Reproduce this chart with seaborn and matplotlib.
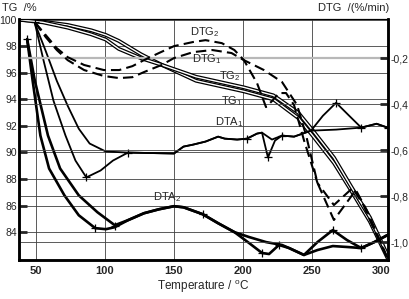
import numpy as np
import pandas as pd
import matplotlib
matplotlib.use("Agg")
import matplotlib.pyplot as plt
import matplotlib.patheffects as pe
from matplotlib.ticker import FuncFormatter
import seaborn as sns

sns.set_style("white")
plt.rcParams['font.family'] = ['Liberation Sans', 'DejaVu Sans']
plt.rcParams['mathtext.default'] = 'regular'

# TG curves, %  (temperature in degC)
tg1_t = [38, 55, 73, 90, 100.6, 110, 126, 141, 166, 200.7, 222, 240, 251, 266, 278, 292, 305]
tg1_v = [100.0, 99.85, 99.6, 99.2, 98.85, 98.4, 97.4, 96.6, 95.4, 94.6, 94.0, 92.6, 91.2, 89.2, 87.2, 84.8, 82.0]
tg2_t = [38, 55, 73, 90, 100.6, 110, 126, 141, 166, 200.7, 222, 240, 251, 266, 278, 292, 305]
tg2_v = [100.0, 99.8, 99.4, 98.9, 98.5, 97.8, 97.1, 96.6, 95.7, 94.9, 94.3, 93.0, 91.6, 89.6, 87.5, 85.1, 82.2]

# DTG curves, %/min (right axis)
dtg1_t = [49.2, 57.1, 65.1, 73.0, 84.9, 99.2, 110.3, 119.9, 128.2, 141.0, 150, 163.9, 177.8,
          191.7, 200.7, 215.2, 228.3, 239.2, 245.7, 254.0, 265.9, 281.8, 289.7, 297.6, 304.8]
dtg1_v = [-0.044, -0.109, -0.165, -0.209, -0.252, -0.278, -0.287, -0.283, -0.261, -0.230, -0.200,
          -0.174, -0.165, -0.178, -0.209, -0.252, -0.304, -0.404, -0.535, -0.743, -0.904, -0.774,
          -0.861, -0.970, -1.070]
dtg2_t = [49.2, 57.1, 65.1, 73.0, 84.9, 99.2, 110.3, 119.9, 128.2, 139.1, 150, 163.9, 172.9, 184.7,
          193.8, 200.7, 210.2, 216.7, 221.0, 226.1, 231.2, 237.0, 244.2, 254.0, 265.9, 279.4,
          287.3, 295.2, 304.8]
dtg2_v = [-0.044, -0.100, -0.157, -0.196, -0.230, -0.252, -0.252, -0.235, -0.209, -0.178, -0.148,
          -0.130, -0.122, -0.135, -0.165, -0.209, -0.309, -0.413, -0.387, -0.352, -0.352, -0.404,
          -0.557, -0.743, -0.839, -0.765, -0.839, -0.948, -1.070]

# DTA curves (no units, drawn on the left scale)
dta1_mid_t = [150, 156.9, 163.9, 172.9, 182.0, 186.8, 195.8, 202.9, 210.2, 213.8]
dta1_mid_v = [89.92, 90.44, 90.59, 90.82, 91.19, 91.04, 90.97, 91.04, 91.42, 91.49]
dta1a_t = [49.2, 57.1, 65.1, 73.0, 81.0, 88.9, 100.6, 116.7] + dta1_mid_t + \
          [218.1, 223.2, 228.3, 237.0, 249.3, 257.9, 267.5, 277.0, 285.7, 296.8, 304.8]
dta1a_v = [99.73, 97.63, 95.39, 93.51, 91.79, 90.67, 90.07, 89.99] + dta1_mid_v + \
          [89.62, 90.89, 91.27, 91.19, 91.64, 92.76, 93.74, 92.76, 91.87, 92.16, 91.87]
dta1b_t = [49.2, 55.6, 62.7, 71.4, 78.6, 86.5, 96.8, 105.8, 116.7] + dta1_mid_t + \
          [221.0, 228.3, 237.0, 249.3, 267.5, 285.7, 296.8, 304.8]
dta1b_v = [99.73, 96.88, 93.89, 91.27, 89.39, 88.12, 88.64, 89.39, 89.99] + dta1_mid_v + \
          [90.97, 91.27, 91.19, 91.64, 91.72, 91.87, 92.16, 91.87]

dta2_mid_t = [116.7, 128.2, 139.1, 150, 156.9, 170.8, 182.0, 193.8]
dta2_mid_v = [84.90, 85.42, 85.72, 85.95, 85.87, 85.35, 84.67, 84.0]
dta2a_t = [43.6, 47.6, 53.2, 59.5, 70.6, 81.0, 92.9, 100.6, 107.1] + dta2_mid_t + \
          [204.4, 213.8, 218.9, 226.1, 233.4, 244.2, 254.0, 265.1, 275.4, 285.7, 295.2, 304.8]
dta2a_v = [98.53, 95.39, 91.27, 88.79, 86.77, 85.27, 84.30, 84.22, 84.37] + dta2_mid_v + \
          [83.18, 82.43, 82.35, 83.03, 82.80, 82.28, 83.25, 84.15, 83.40, 82.80, 83.25, 83.78]
dta2b_t = [43.6, 49.2, 58.7, 67.5, 81.0, 94.5, 107.1] + dta2_mid_t + \
          [204.4, 216.7, 228.3, 233.4, 244.2, 254.0, 265.1, 275.4, 285.7, 295.2, 304.8]
dta2b_v = [98.53, 95.39, 91.27, 88.79, 86.77, 85.50, 84.52] + dta2_mid_v + \
          [83.63, 83.25, 83.03, 82.80, 82.28, 82.65, 82.95, 82.88, 82.80, 83.25, 83.78]

# "+" marks on the curves
plus_t = [49.2, 43.6, 116.7, 86.5, 92.9, 107.1, 170.8, 202.9, 218.1, 228.3, 267.5, 285.7, 304.8,
          213.8, 226.1, 265.1, 285.7, 304.8]
plus_v = [99.8, 98.53, 89.99, 88.12, 84.30, 84.45, 85.35, 91.04, 89.62, 91.27, 93.74, 91.87, 91.87,
          82.43, 83.03, 84.15, 82.80, 83.78]

x_ticks = [50, 100, 150, 200, 250, 300]
tg_ticks = [84, 86, 88, 90, 92, 94, 96, 98, 100]
dtg_ticks = [-1.0, -0.8, -0.6, -0.4, -0.2]

fig = plt.figure(figsize=(4.10, 2.99), dpi=100)
ax = fig.add_axes([19/410, 1 - 260/299, 369/410, 241/299])
ax2 = ax.twinx()

ax.set_xlim(37.7, 305.1)
ax.set_ylim(81.9, 100.05)
ax2.set_ylim(-1.078, -0.030)

# grid
for t in x_ticks[:-1]:
    ax.axvline(t, color='0.25', lw=0.6, zorder=0)
for v in tg_ticks:
    ax.axhline(v, color='0.25', lw=0.6, zorder=0)
for v in dtg_ticks:
    if v == -0.2:
        ax2.axhline(v, color='0.72', lw=1.6, zorder=0)
    else:
        ax2.axhline(v, color='0.25', lw=0.6, zorder=0)

hollow = [pe.Stroke(linewidth=2.8, foreground='k'), pe.Normal()]
sns.lineplot(x=tg1_t, y=tg1_v, ax=ax, color='white', lw=1.0, sort=False, estimator=None,
             path_effects=hollow)
sns.lineplot(x=tg2_t, y=tg2_v, ax=ax, color='white', lw=1.0, sort=False, estimator=None,
             path_effects=hollow)

sns.lineplot(x=dta1a_t, y=dta1a_v, ax=ax, color='k', lw=1.3, sort=False, estimator=None)
sns.lineplot(x=dta1b_t, y=dta1b_v, ax=ax, color='k', lw=1.3, sort=False, estimator=None)
sns.lineplot(x=dta2a_t, y=dta2a_v, ax=ax, color='k', lw=1.9, sort=False, estimator=None)
sns.lineplot(x=dta2b_t, y=dta2b_v, ax=ax, color='k', lw=1.9, sort=False, estimator=None)
sns.scatterplot(x=plus_t, y=plus_v, ax=ax, marker='+', s=40, color='k', linewidth=0.9, zorder=5)

sns.lineplot(x=dtg1_t, y=dtg1_v, ax=ax2, color='k', lw=1.5, sort=False, estimator=None,
             linestyle=(0, (5, 2.5)))
sns.lineplot(x=dtg2_t, y=dtg2_v, ax=ax2, color='k', lw=1.5, sort=False, estimator=None,
             linestyle=(0, (5, 2.5)))

ax.set_xticks(x_ticks)
ax.set_xticklabels([str(t) for t in x_ticks], fontweight='bold')
ax.tick_params(axis='x', length=0, labelsize=8, pad=4)
ax.set_yticks(tg_ticks)
ax.tick_params(axis='y', direction='in', length=6, width=2, labelsize=7.5, pad=1.5)
ax2.set_yticks(dtg_ticks)
ax2.yaxis.set_major_formatter(FuncFormatter(lambda v, p: f"{v:.1f}".replace('.', ',')))
ax2.tick_params(axis='y', direction='in', length=6, width=2, labelsize=7.5, pad=1.5)

for a in (ax, ax2):
    a.set_ylabel('')
    for s in ('left', 'right', 'bottom'):
        a.spines[s].set_linewidth(1.8)
        a.spines[s].set_color('k')
    a.spines['top'].set_linewidth(0.8)
    a.spines['top'].set_color('k')
ax.set_xlabel('Temperature / $^{o}$C', fontsize=8.5, labelpad=2)

ax2.text(172.5, -0.085, 'DTG$_2$', fontsize=8, ha='center', va='center')
ax2.text(174, -0.205, 'DTG$_1$', fontsize=8, ha='center', va='center')
ax.text(190.6, 95.75, 'TG$_2$', fontsize=8, ha='center', va='center')
ax.text(192, 93.85, 'TG$_1$', fontsize=8, ha='center', va='center')
ax.text(190, 92.3, 'DTA$_1$', fontsize=8, ha='center', va='center')
ax.text(145, 86.6, 'DTA$_2$', fontsize=8, ha='center', va='center')

fig.text(0.005, 0.99, 'TG  /%', fontsize=8, ha='left', va='top')
fig.text(0.95, 0.99, 'DTG  /(%/min)', fontsize=8, ha='right', va='top')

fig.savefig('out.png', dpi=100)
